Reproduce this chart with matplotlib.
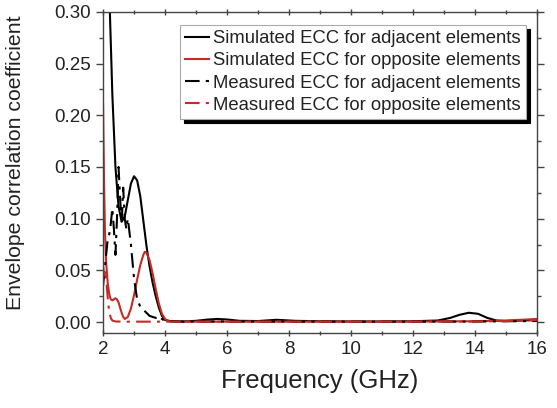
import matplotlib
matplotlib.use("Agg")
import matplotlib.pyplot as plt

plt.rcParams['font.family'] = ['Liberation Sans', 'DejaVu Sans']

# Simulated ECC, adjacent elements
f_sim_adj = [2.0, 2.1, 2.2, 2.3, 2.4, 2.5, 2.6, 2.7, 2.8, 2.9, 3.0, 3.1, 3.2, 3.3, 3.4,
             3.5, 3.6, 3.7, 3.8, 3.9, 4.0, 4.2, 4.5, 5.0, 5.4, 5.7, 6.0, 6.4, 7.0, 7.6,
             8.2, 9.0, 10.0, 11.0, 12.0, 12.8, 13.2, 13.5, 13.8, 14.1, 14.4, 14.7, 15.0,
             15.5, 16.0]
ecc_sim_adj = [0.50, 0.40, 0.32, 0.22, 0.15, 0.112, 0.097, 0.102, 0.118, 0.134, 0.141,
               0.137, 0.122, 0.098, 0.074, 0.054, 0.038, 0.025, 0.014, 0.006, 0.002,
               0.0008, 0.0005, 0.0012, 0.0025, 0.003, 0.0025, 0.0012, 0.001, 0.0022,
               0.0012, 0.0008, 0.0006, 0.0006, 0.0008, 0.0015, 0.004, 0.007, 0.009,
               0.008, 0.004, 0.0015, 0.001, 0.0015, 0.002]

# Simulated ECC, opposite elements
f_sim_opp = [2.0, 2.03, 2.06, 2.1, 2.15, 2.2, 2.25, 2.3, 2.35, 2.4, 2.45, 2.5, 2.55,
             2.6, 2.65, 2.7, 2.8, 2.9, 3.0, 3.1, 3.2, 3.3, 3.35, 3.4, 3.5, 3.6, 3.7,
             3.8, 3.9, 4.0, 4.1, 4.3, 5.0, 6.0, 8.0, 10.0, 12.0, 14.0, 15.0, 16.0]
ecc_sim_opp = [0.21, 0.14, 0.09, 0.058, 0.038, 0.027, 0.022, 0.021, 0.022, 0.023,
               0.022, 0.019, 0.014, 0.009, 0.005, 0.003, 0.005, 0.013, 0.026, 0.041,
               0.055, 0.065, 0.068, 0.067, 0.060, 0.047, 0.032, 0.018, 0.008, 0.003,
               0.001, 0.0004, 0.0004, 0.0004, 0.0004, 0.0004, 0.0005, 0.0008, 0.0015,
               0.003]

# Measured ECC, adjacent elements
f_meas_adj = [2.0, 2.05, 2.1, 2.15, 2.2, 2.25, 2.3, 2.35, 2.4, 2.45, 2.5, 2.55, 2.6,
              2.65, 2.7, 2.75, 2.8, 2.9, 3.0, 3.1, 3.2, 3.3, 3.4, 3.5, 3.6, 3.7, 3.8,
              3.9, 4.0, 4.5, 5.0, 6.0, 7.0, 8.0, 10.0, 12.0, 14.0, 16.0]
ecc_meas_adj = [0.035, 0.05, 0.065, 0.08, 0.085, 0.095, 0.11, 0.09, 0.065, 0.10, 0.15,
                0.12, 0.095, 0.13, 0.10, 0.09, 0.10, 0.075, 0.042, 0.022, 0.015, 0.012,
                0.009, 0.006, 0.005, 0.004, 0.006, 0.003, 0.001, 0.0005, 0.0005, 0.0006,
                0.0005, 0.0005, 0.0004, 0.0004, 0.0005, 0.001]

# Measured ECC, opposite elements
f_meas_opp = [2.0, 2.04, 2.08, 2.12, 2.16, 2.2, 2.25, 2.3, 2.4, 2.6, 3.0, 4.0, 6.0, 8.0,
              10.0, 12.0, 14.0, 15.0, 16.0]
ecc_meas_opp = [0.055, 0.045, 0.05, 0.035, 0.02, 0.01, 0.004, 0.0015, 0.0006, 0.0004,
                0.0004, 0.0004, 0.0004, 0.0004, 0.0004, 0.0004, 0.0005, 0.001, 0.002]

labels = ["Simulated ECC for adjacent elements",
          "Simulated ECC for opposite elements",
          "Measured ECC for adjacent elements",
          "Measured ECC for opposite elements"]

red = '#c62a24'
dashdot = (0, (7, 3, 1.5, 3))

fig = plt.figure(figsize=(5.57, 4.08), dpi=100)
ax = fig.add_axes([0.185, 0.184, 0.779, 0.787])

ax.plot(f_sim_adj, ecc_sim_adj, color='black', lw=1.5, label=labels[0])
ax.plot(f_sim_opp, ecc_sim_opp, color=red, lw=1.5, label=labels[1])
ax.plot(f_meas_adj, ecc_meas_adj, color='black', lw=1.5, ls=dashdot, label=labels[2])
ax.plot(f_meas_opp, ecc_meas_opp, color=red, lw=1.5, ls=dashdot, label=labels[3])

ax.set_xlim(2, 16)
ax.set_ylim(-0.0105, 0.30)
ax.set_xticks([2, 4, 6, 8, 10, 12, 14, 16])
ax.set_xticks(range(3, 16, 2), minor=True)
ax.set_yticks([0.0, 0.05, 0.10, 0.15, 0.20, 0.25, 0.30])
ax.set_yticks([0.025, 0.075, 0.125, 0.175, 0.225, 0.275], minor=True)
ax.set_yticklabels(['0.00', '0.05', '0.10', '0.15', '0.20', '0.25', '0.30'])
ax.tick_params(axis='both', which='major', labelsize=13.5, direction='out', length=5,
               width=1, color='#444444', labelcolor='#222222')
ax.tick_params(axis='both', which='minor', direction='out', length=3, width=1,
               color='#444444')
ax.tick_params(top=True, right=True, which='both')
ax.tick_params(axis='x', which='both', top=True, direction='inout')
for s in ax.spines.values():
    s.set_color('#444444')
    s.set_linewidth(1.0)

ax.set_xlabel('Frequency (GHz)', fontsize=18.5, color='#222222', labelpad=8)
ax.set_ylabel('Envelope correlation coefficient', fontsize=15.3, color='#222222')
ax.yaxis.set_label_coords(-0.18, 0.53)

leg = ax.legend(loc='upper right', bbox_to_anchor=(0.975, 0.96), fontsize=13.3,
                handlelength=1.3, handletextpad=0.2, borderpad=0.3, labelspacing=0.28,
                borderaxespad=0, fancybox=False, framealpha=1, edgecolor='#aaaaaa',
                shadow={'color': 'black', 'alpha': 1, 'ox': 3, 'oy': -3})
leg.get_frame().set_linewidth(0.8)
for t in leg.get_texts():
    t.set_color('#222222')

fig.savefig('out.png', dpi=100)
